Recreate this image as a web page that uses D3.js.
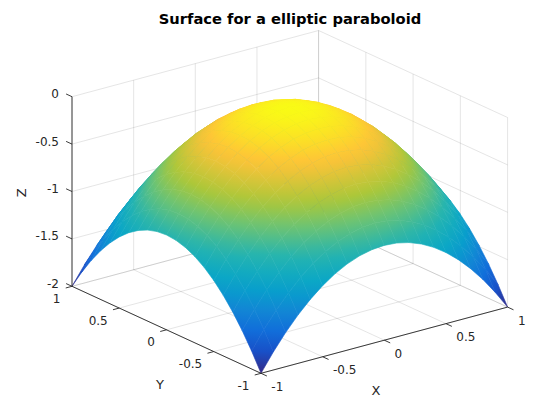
<!DOCTYPE html>
<html>
<head>
<meta charset="utf-8">
<script src="https://cdn.jsdelivr.net/npm/d3@7"></script>
<style>
  body { margin: 0; background: #fff; }
  svg { display: block; font-family: "DejaVu Sans", sans-serif; }
</style>
</head>
<body>
<svg id="chart" width="560" height="420"></svg>
<script>
// grid of the surface (x along columns, y along rows)
const xVals = [-1, -0.9, -0.8, -0.7, -0.6, -0.5, -0.4, -0.3, -0.2, -0.1, 0, 0.1, 0.2, 0.3, 0.4, 0.5, 0.6, 0.7, 0.8, 0.9, 1];
const yVals = [-1, -0.9, -0.8, -0.7, -0.6, -0.5, -0.4, -0.3, -0.2, -0.1, 0, 0.1, 0.2, 0.3, 0.4, 0.5, 0.6, 0.7, 0.8, 0.9, 1];
const zRows = [
  [-2, -1.81, -1.64, -1.49, -1.36, -1.25, -1.16, -1.09, -1.04, -1.01, -1, -1.01, -1.04, -1.09, -1.16, -1.25, -1.36, -1.49, -1.64, -1.81, -2],
  [-1.81, -1.62, -1.45, -1.3, -1.17, -1.06, -0.97, -0.9, -0.85, -0.82, -0.81, -0.82, -0.85, -0.9, -0.97, -1.06, -1.17, -1.3, -1.45, -1.62, -1.81],
  [-1.64, -1.45, -1.28, -1.13, -1, -0.89, -0.8, -0.73, -0.68, -0.65, -0.64, -0.65, -0.68, -0.73, -0.8, -0.89, -1, -1.13, -1.28, -1.45, -1.64],
  [-1.49, -1.3, -1.13, -0.98, -0.85, -0.74, -0.65, -0.58, -0.53, -0.5, -0.49, -0.5, -0.53, -0.58, -0.65, -0.74, -0.85, -0.98, -1.13, -1.3, -1.49],
  [-1.36, -1.17, -1, -0.85, -0.72, -0.61, -0.52, -0.45, -0.4, -0.37, -0.36, -0.37, -0.4, -0.45, -0.52, -0.61, -0.72, -0.85, -1, -1.17, -1.36],
  [-1.25, -1.06, -0.89, -0.74, -0.61, -0.5, -0.41, -0.34, -0.29, -0.26, -0.25, -0.26, -0.29, -0.34, -0.41, -0.5, -0.61, -0.74, -0.89, -1.06, -1.25],
  [-1.16, -0.97, -0.8, -0.65, -0.52, -0.41, -0.32, -0.25, -0.2, -0.17, -0.16, -0.17, -0.2, -0.25, -0.32, -0.41, -0.52, -0.65, -0.8, -0.97, -1.16],
  [-1.09, -0.9, -0.73, -0.58, -0.45, -0.34, -0.25, -0.18, -0.13, -0.1, -0.09, -0.1, -0.13, -0.18, -0.25, -0.34, -0.45, -0.58, -0.73, -0.9, -1.09],
  [-1.04, -0.85, -0.68, -0.53, -0.4, -0.29, -0.2, -0.13, -0.08, -0.05, -0.04, -0.05, -0.08, -0.13, -0.2, -0.29, -0.4, -0.53, -0.68, -0.85, -1.04],
  [-1.01, -0.82, -0.65, -0.5, -0.37, -0.26, -0.17, -0.1, -0.05, -0.02, -0.01, -0.02, -0.05, -0.1, -0.17, -0.26, -0.37, -0.5, -0.65, -0.82, -1.01],
  [-1, -0.81, -0.64, -0.49, -0.36, -0.25, -0.16, -0.09, -0.04, -0.01, 0, -0.01, -0.04, -0.09, -0.16, -0.25, -0.36, -0.49, -0.64, -0.81, -1],
  [-1.01, -0.82, -0.65, -0.5, -0.37, -0.26, -0.17, -0.1, -0.05, -0.02, -0.01, -0.02, -0.05, -0.1, -0.17, -0.26, -0.37, -0.5, -0.65, -0.82, -1.01],
  [-1.04, -0.85, -0.68, -0.53, -0.4, -0.29, -0.2, -0.13, -0.08, -0.05, -0.04, -0.05, -0.08, -0.13, -0.2, -0.29, -0.4, -0.53, -0.68, -0.85, -1.04],
  [-1.09, -0.9, -0.73, -0.58, -0.45, -0.34, -0.25, -0.18, -0.13, -0.1, -0.09, -0.1, -0.13, -0.18, -0.25, -0.34, -0.45, -0.58, -0.73, -0.9, -1.09],
  [-1.16, -0.97, -0.8, -0.65, -0.52, -0.41, -0.32, -0.25, -0.2, -0.17, -0.16, -0.17, -0.2, -0.25, -0.32, -0.41, -0.52, -0.65, -0.8, -0.97, -1.16],
  [-1.25, -1.06, -0.89, -0.74, -0.61, -0.5, -0.41, -0.34, -0.29, -0.26, -0.25, -0.26, -0.29, -0.34, -0.41, -0.5, -0.61, -0.74, -0.89, -1.06, -1.25],
  [-1.36, -1.17, -1, -0.85, -0.72, -0.61, -0.52, -0.45, -0.4, -0.37, -0.36, -0.37, -0.4, -0.45, -0.52, -0.61, -0.72, -0.85, -1, -1.17, -1.36],
  [-1.49, -1.3, -1.13, -0.98, -0.85, -0.74, -0.65, -0.58, -0.53, -0.5, -0.49, -0.5, -0.53, -0.58, -0.65, -0.74, -0.85, -0.98, -1.13, -1.3, -1.49],
  [-1.64, -1.45, -1.28, -1.13, -1, -0.89, -0.8, -0.73, -0.68, -0.65, -0.64, -0.65, -0.68, -0.73, -0.8, -0.89, -1, -1.13, -1.28, -1.45, -1.64],
  [-1.81, -1.62, -1.45, -1.3, -1.17, -1.06, -0.97, -0.9, -0.85, -0.82, -0.81, -0.82, -0.85, -0.9, -0.97, -1.06, -1.17, -1.3, -1.45, -1.62, -1.81],
  [-2, -1.81, -1.64, -1.49, -1.36, -1.25, -1.16, -1.09, -1.04, -1.01, -1, -1.01, -1.04, -1.09, -1.16, -1.25, -1.36, -1.49, -1.64, -1.81, -2]
];

const xTicks = [-1, -0.5, 0, 0.5, 1];
const yTicks = [-1, -0.5, 0, 0.5, 1];
const zTicks = [-2, -1.5, -1, -0.5, 0];
const tickLabels = ["-1", "-0.5", "0", "0.5", "1"];
const zTickLabels = ["-2", "-1.5", "-1", "-0.5", "0"];
// parula-like colormap: stop positions (0..1) and colours
const cmapPos = [0, 0.125, 0.25, 0.375, 0.5, 0.625, 0.714, 0.857, 1];
const cmapCol = ["#352a87", "#0f5cdd", "#1481d6", "#06a4ca", "#25b4b0", "#70c470", "#abc739", "#fec338", "#f9fb15"];

const svg = d3.select("#chart");

// box geometry (az -37.5, el 30), screen vectors per half box
const center = [289.8, 201.9];
const ex = [123.3, -33.1], ey = [-94.5, -43.5], ez = [0, -94.8];

const sx = d3.scaleLinear().domain([-1, 1]).range([-1, 1]);
const sy = d3.scaleLinear().domain([-1, 1]).range([-1, 1]);
const sz = d3.scaleLinear().domain([-2, 0]).range([-1, 1]);
const cFrac = d3.scaleLinear().domain([-2, 0]).range([0, 1]).clamp(true);
const cmap = d3.scaleLinear().domain(cmapPos).range(cmapCol);
const color = z => cmap(cFrac(z));

function proj(x, y, z) {
  const a = sx(x), b = sy(y), c = sz(z);
  return [center[0] + a * ex[0] + b * ey[0] + c * ez[0],
          center[1] + a * ex[1] + b * ey[1] + c * ez[1]];
}
function depth(x, y, z) { return 0.527 * sx(x) + 0.687 * sy(y) - 0.5 * sz(z); }

const line3 = (p, q) => { const a = proj(...p), b = proj(...q); return `M${a[0]},${a[1]}L${b[0]},${b[1]}`; };

// grid on back walls and floor
const gridSegs = [];
xTicks.forEach(x => gridSegs.push([[x, 1, -2], [x, 1, 0]], [[x, -1, -2], [x, 1, -2]]));
yTicks.forEach(y => gridSegs.push([[1, y, -2], [1, y, 0]], [[-1, y, -2], [1, y, -2]]));
zTicks.forEach(z => gridSegs.push([[-1, 1, z], [1, 1, z]], [[1, -1, z], [1, 1, z]]));

svg.append("g").selectAll("path").data(gridSegs).join("path")
  .attr("d", d => line3(d[0], d[1]))
  .attr("fill", "none").attr("stroke", "#262626").attr("stroke-opacity", 0.15).attr("stroke-width", 0.8);

// surface quads, painted far to near
const quads = [];
for (let j = 0; j < yVals.length - 1; j++) {
  for (let i = 0; i < xVals.length - 1; i++) {
    const c = [[i, j], [i + 1, j], [i + 1, j + 1], [i, j + 1]];
    const pts = c.map(([a, b]) => proj(xVals[a], yVals[b], zRows[b][a]));
    const zs = c.map(([a, b]) => zRows[b][a]);
    const d = d3.mean(c, ([a, b]) => depth(xVals[a], yVals[b], zRows[b][a]));
    quads.push({ pts, zs, d });
  }
}
quads.sort((a, b) => b.d - a.d);

// each quad gets a linear gradient along its screen-space z slope
const defs = svg.append("defs");
quads.forEach((q, k) => {
  const cx = d3.mean(q.pts, p => p[0]), cy = d3.mean(q.pts, p => p[1]), cz = d3.mean(q.zs);
  let sxx = 0, sxy = 0, syy = 0, sxz = 0, syz = 0;
  q.pts.forEach((p, i) => {
    const dx = p[0] - cx, dy = p[1] - cy, dz = q.zs[i] - cz;
    sxx += dx * dx; sxy += dx * dy; syy += dy * dy; sxz += dx * dz; syz += dy * dz;
  });
  q.fill = color(cz);
  const det = sxx * syy - sxy * sxy;
  const zmin = d3.min(q.zs), zmax = d3.max(q.zs);
  if (Math.abs(det) > 1e-6 && zmax - zmin > 1e-6) {
    const a = (sxz * syy - syz * sxy) / det, b = (syz * sxx - sxz * sxy) / det;
    const g2 = a * a + b * b;
    if (g2 > 1e-12) {
      const t0 = (zmin - cz) / g2, t1 = (zmax - cz) / g2;
      const lg = defs.append("linearGradient").attr("id", "g" + k)
        .attr("gradientUnits", "userSpaceOnUse")
        .attr("x1", cx + a * t0).attr("y1", cy + b * t0)
        .attr("x2", cx + a * t1).attr("y2", cy + b * t1);
      [0, 0.5, 1].forEach(o => lg.append("stop").attr("offset", o).attr("stop-color", color(zmin + o * (zmax - zmin))));
      q.fill = `url(#g${k})`;
    }
  }
});

svg.append("g").selectAll("path").data(quads).join("path")
  .attr("d", q => "M" + q.pts.map(p => p.join(",")).join("L") + "Z")
  .attr("fill", q => q.fill).attr("stroke", q => q.fill)
  .attr("stroke-width", 0.6).attr("stroke-linejoin", "round");

// axes
const axes = svg.append("g").attr("stroke", "#262626").attr("stroke-width", 0.9).attr("fill", "none");
axes.append("path").attr("d", line3([-1, 1, -2], [-1, 1, 0]));
axes.append("path").attr("d", line3([-1, -1, -2], [-1, 1, -2]));
axes.append("path").attr("d", line3([-1, -1, -2], [1, -1, -2]));

const tl = 6.5;
const unit = v => { const n = Math.hypot(v[0], v[1]); return [v[0] / n, v[1] / n]; };
const uEx = unit(ex), uEy = unit(ey);

const labels = svg.append("g").attr("fill", "#262626").attr("font-size", 12);

zTicks.forEach((z, i) => {
  const p = proj(-1, 1, z);
  axes.append("path").attr("d", `M${p[0]},${p[1]}l${uEy[0] * tl},${uEy[1] * tl}`);
  labels.append("text").attr("x", p[0] - 13).attr("y", p[1] - 2.5)
    .attr("text-anchor", "end").attr("dominant-baseline", "central").text(zTickLabels[i]);
});
yTicks.forEach((y, i) => {
  const p = proj(-1, y, -2);
  axes.append("path").attr("d", `M${p[0]},${p[1]}l${-uEx[0] * tl},${-uEx[1] * tl}`);
  labels.append("text").attr("x", p[0] - 11.5).attr("y", p[1] + 12.5)
    .attr("text-anchor", "end").attr("dominant-baseline", "central").text(tickLabels[i]);
});
xTicks.forEach((x, i) => {
  const p = proj(x, -1, -2);
  axes.append("path").attr("d", `M${p[0]},${p[1]}l${-uEy[0] * tl},${-uEy[1] * tl}`);
  labels.append("text").attr("x", p[0] + 10.3).attr("y", p[1] + 13.5)
    .attr("text-anchor", "start").attr("dominant-baseline", "central").text(tickLabels[i]);
});

// axis labels and title
svg.append("text").attr("transform", "translate(21.7,192.7) rotate(-90)")
  .attr("text-anchor", "middle").attr("dominant-baseline", "central")
  .attr("font-size", 13).attr("fill", "#262626").text("Z");
svg.append("text").attr("x", 160).attr("y", 384)
  .attr("text-anchor", "middle").attr("dominant-baseline", "central")
  .attr("font-size", 13).attr("fill", "#262626").text("Y");
svg.append("text").attr("x", 376).attr("y", 390)
  .attr("text-anchor", "middle").attr("dominant-baseline", "central")
  .attr("font-size", 13).attr("fill", "#262626").text("X");
svg.append("text").attr("x", 290).attr("y", 24)
  .attr("text-anchor", "middle").attr("font-size", 14.7).attr("font-weight", "bold")
  .attr("fill", "#000").text("Surface for a elliptic paraboloid");
</script>
</body>
</html>
